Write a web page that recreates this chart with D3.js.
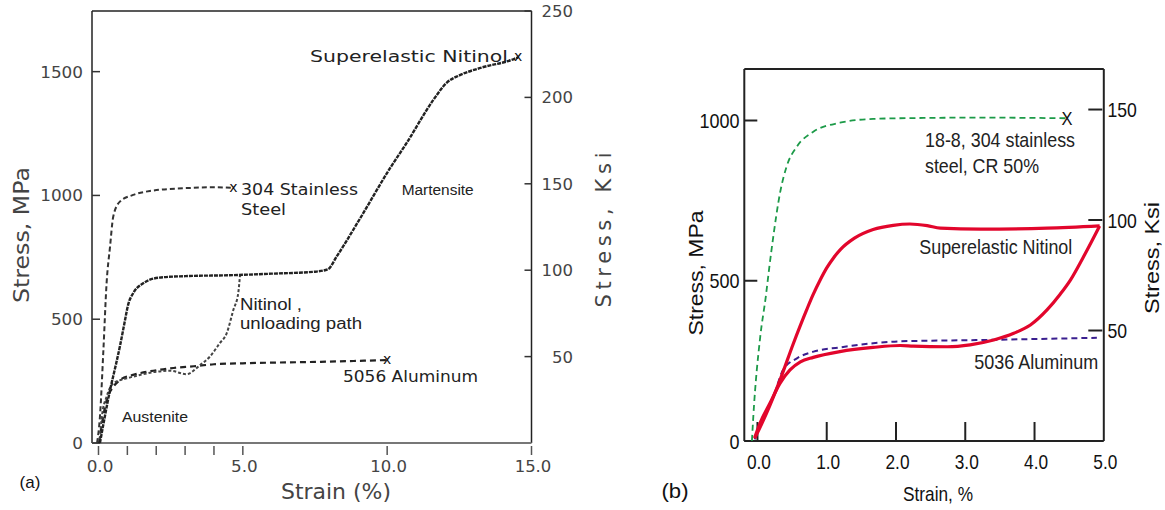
<!DOCTYPE html>
<html><head><meta charset="utf-8">
<script src="https://cdn.jsdelivr.net/npm/d3@7"></script>
<style>body{margin:0;background:#fff}svg{display:block}</style>
</head><body>
<svg id="c" width="1165" height="510"></svg>
<script>
// ---------- Panel (a) data ----------
const aStrainTicks = [0, 5, 10, 15];
const aStrainMinor = [1, 2, 3, 4];
const aStressTicks = [0, 500, 1000, 1500];
const aKsiTicks = [50, 100, 150, 200, 250];
// [strain %, stress MPa]
const aNitinolLoad = [[0.05,0],[0.2,95],[0.4,214],[0.6,315],[0.75,395],[0.9,485],[1.03,560],[1.2,605],[1.55,645],[2.1,668],[3,674],[4.66,678],[6,684],[7.5,692],[7.95,702],[8.25,753],[9,895],[10.1,1110],[10.67,1211],[11.6,1386],[12.06,1455],[12.5,1485],[13.2,1514],[14.37,1550],[14.54,1558]];
const aNitinolUnload = [[0.05,16],[0.12,110],[0.28,187],[0.51,241],[0.98,261],[1.44,275],[2.0,288],[2.48,292],[3.05,278],[3.52,315],[3.86,349],[4.2,403],[4.44,443],[4.67,537],[4.84,605],[4.9,675]];
const aAluminum = [[0.02,0],[0.15,100],[0.3,180],[0.5,225],[0.75,255],[1.2,275],[1.9,292],[2.6,303],[3.3,310],[4,318],[5,322],[7.7,328],[10.0,335]];
const aSteel = [[-0.05,0],[0.05,106],[0.17,376],[0.28,645],[0.4,793],[0.51,914],[0.74,975],[1.2,1002],[1.78,1018],[2.94,1029],[4.09,1033],[4.67,1030]];

// ---------- Panel (b) data ----------
const bStrainTicks = [0, 1, 2, 3, 4, 5];
const bStressTicks = [0, 500, 1000];
const bKsiTicks = [50, 100, 150];
const bSteel = [[-0.08,0],[-0.06,76],[0.04,325],[0.12,450],[0.17,540],[0.228,637],[0.325,773],[0.42,856],[0.567,918],[0.806,965],[1.19,993],[1.67,1005],[2.4,1008],[3.2,1009],[4.47,1007]];
const bNitinolLoad = [[-0.04,8],[0.13,86],[0.325,190],[0.52,305],[0.71,409],[0.8,455],[0.9,500],[1.0,540],[1.1,572],[1.2,598],[1.4,633],[1.67,660],[1.96,673],[2.2,677],[2.45,672],[2.64,664],[3.22,661],[4.18,664],[4.94,671]];
const bNitinolUnload = [[-0.04,10],[0.036,55],[0.18,118],[0.325,180],[0.47,222],[0.62,247],[0.806,261],[1.19,279],[1.67,292],[2.06,298],[2.25,296],[2.74,294],[3.07,300],[3.41,315],[3.7,336],[3.94,362],[4.18,409],[4.37,458],[4.52,503],[4.7,572],[4.94,671]];
const bAluminum = [[-0.04,5],[0.1,80],[0.23,138],[0.37,222],[0.57,258],[0.81,279],[1.19,292],[1.67,305],[2.06,311],[3.22,315],[4.9,322]];

const MPA_PER_KSI = 6.895;
const svg = d3.select('#c');

function label(g, s, x, y, o = {}) {
  const t = g.append('text').attr('x', x).attr('y', y).text(s)
    .attr('font-family', o.ff || "'Liberation Sans', Arial, sans-serif")
    .attr('font-size', o.fs || 15)
    .attr('fill', o.fill || '#222')
    .attr('text-anchor', o.anchor || 'start');
  if (o.len) t.attr('textLength', o.len).attr('lengthAdjust', o.adj || 'spacingAndGlyphs');
  if (o.rot) t.attr('transform', `rotate(${o.rot},${x},${y})`);
  if (o.db) t.attr('dominant-baseline', o.db);
  return t;
}
function line(g, x1, y1, x2, y2, st, w) {
  g.append('line').attr('x1', x1).attr('y1', y1).attr('x2', x2).attr('y2', y2)
    .attr('stroke', st).attr('stroke-width', w);
}
function lenOf(s, dig, dot) {
  let L = 0; for (const c of s) L += (c === '.') ? dot : dig; return L;
}
const PIX = "'DejaVu Sans', sans-serif";

// ================= Panel (a) =================
const gA = svg.append('g');
const ax = d3.scaleLinear().domain([-0.225, 15]).range([92, 531.5]);
const ay = d3.scaleLinear().domain([0, 1745]).range([443, 11]);
const ayK = d3.scaleLinear().domain([0, 250]).range([443, 11]);
const [aL, aR] = ax.range(), [aB, aT] = ay.range();

line(gA, aL, aT, aL, aB, '#222', 1.5);
line(gA, aL, aT, aR, aT, '#222', 1.5);
line(gA, aR, aT, aR, aB, '#222', 1.5);
line(gA, aL, aB, aR, aB, '#777', 2);

aStressTicks.forEach(v => {
  line(gA, aL, ay(v), aL + 8, ay(v), '#333', 1.5);
  const s = String(v);
  label(gA, s, 83, ay(v) + 6, {ff: PIX, fs: 16, fill: '#444', anchor: 'end', len: lenOf(s, 10.7, 5)});
});
aKsiTicks.forEach(v => {
  line(gA, aR - 7, ayK(v), aR, ayK(v), '#333', 1.5);
  const s = String(v);
  label(gA, s, 573, ayK(v) + 6, {ff: PIX, fs: 16, fill: '#444', anchor: 'end', len: lenOf(s, 10.5, 5)});
});
aStrainTicks.concat(aStrainMinor).forEach(v => line(gA, ax(v), aB + 3, ax(v), aB + 12, '#555', 1.5));
aStrainTicks.forEach(v => {
  const s = v.toFixed(1);
  label(gA, s, ax(v) + 1.5, 472, {ff: PIX, fs: 16, fill: '#444', anchor: 'middle', len: lenOf(s, 10, 6.7)});
});
label(gA, 'Stress, MPa', 29, 235, {ff: PIX, fs: 21, fill: '#444', anchor: 'middle', rot: -90, len: 136});
label(gA, 'Stress, Ksi', 611, 230, {ff: PIX, fs: 21, fill: '#444', anchor: 'middle', rot: -90, len: 155, adj: 'spacing'});
label(gA, 'Strain (%)', 336, 499, {ff: PIX, fs: 21, fill: '#444', anchor: 'middle', len: 110});
label(gA, '(a)', 30, 488, {fs: 17, fill: '#111', anchor: 'middle'});

const lineA = d3.line().x(d => ax(d[0])).y(d => ay(d[1])).curve(d3.curveMonotoneX);
gA.append('path').attr('d', lineA(aSteel)).attr('fill', 'none').attr('stroke', '#333').attr('stroke-width', 2).attr('stroke-dasharray', '5,3');
gA.append('path').attr('d', lineA(aAluminum)).attr('fill', 'none').attr('stroke', '#222').attr('stroke-width', 2.2).attr('stroke-dasharray', '6,4');
gA.append('path').attr('d', lineA(aNitinolUnload)).attr('fill', 'none').attr('stroke', '#444').attr('stroke-width', 2).attr('stroke-dasharray', '3,2');
gA.append('path').attr('d', lineA(aNitinolLoad)).attr('fill', 'none').attr('stroke', '#222').attr('stroke-width', 2.4).attr('stroke-dasharray', '4,1');

[aSteel, aAluminum, aNitinolLoad].forEach(arr => {
  const e = arr[arr.length - 1];
  label(gA, 'x', ax(e[0]), ay(e[1]) + 4, {fs: 14, fill: '#111', anchor: 'middle', ff: PIX});
});

label(gA, 'Superelastic Nitinol', 310, 61.5, {ff: PIX, fs: 15, fill: '#222', len: 198});
label(gA, '304 Stainless', 241, 195, {ff: PIX, fs: 15, fill: '#222', len: 117});
label(gA, 'Steel', 241, 215, {ff: PIX, fs: 15, fill: '#222', len: 45});
label(gA, 'Martensite', 401.7, 195, {fs: 15.5, len: 72});
label(gA, 'Nitinol ,', 240, 310, {fs: 16, len: 62});
label(gA, 'unloading path', 240, 329, {fs: 16, len: 122});
label(gA, '5056 Aluminum', 343, 381.5, {ff: PIX, fs: 15, fill: '#222', len: 135});
label(gA, 'Austenite', 122, 421.5, {fs: 15.5, len: 66});

// ================= Panel (b) =================
const gB = svg.append('g');
const bx = d3.scaleLinear().domain([-0.19, 5]).range([744.3, 1103.8]);
const by = d3.scaleLinear().domain([0, 1160.7]).range([441, 69]);
const byK = d3.scaleLinear().domain([0, 1160.7 / MPA_PER_KSI]).range([441, 69]);
const [bL, bR] = bx.range(), [bB, bT] = by.range();

line(gB, bL, bT, bL, bB, '#222', 2);
line(gB, bL, bT, bR, bT, '#222', 2);
line(gB, bR, bT, bR, bB, '#222', 2);
line(gB, bL, bB, bR, bB, '#222', 2);

bStressTicks.forEach(v => {
  line(gB, bL, by(v), bL + 13, by(v), '#222', 2);
  const s = String(v);
  label(gB, s, 739.5, by(v) + 7.5, {fs: 21, fill: '#111', anchor: 'end', len: lenOf(s, 10, 4)});
});
bKsiTicks.forEach(v => {
  line(gB, bR - 15.5, byK(v), bR - 1.5, byK(v), '#222', 2);
  const s = String(v);
  label(gB, s, 1107.5, byK(v) + 7.5, {fs: 21, fill: '#111', len: lenOf(s, 9.8, 4)});
});
bStrainTicks.filter(v => v < 5).forEach(v => line(gB, bx(v), bB - 19, bx(v), bB, '#222', 2));
bStrainTicks.forEach(v => {
  const s = v.toFixed(1);
  label(gB, s, bx(v) + 1.5, 468.5, {fs: 21, fill: '#111', anchor: 'middle', len: lenOf(s, 10, 4)});
});
label(gB, 'Stress, MPa', 703, 273, {fs: 21, fill: '#111', anchor: 'middle', rot: -90, len: 125});
label(gB, 'Stress, Ksi', 1159, 258, {fs: 21, fill: '#111', anchor: 'middle', rot: -90, len: 112});
label(gB, 'Strain, %', 938, 501, {fs: 21, fill: '#111', anchor: 'middle', len: 70});
label(gB, '(b)', 675, 498, {fs: 21, fill: '#111', anchor: 'middle', len: 27});

const lineB = d3.line().x(d => bx(d[0])).y(d => by(d[1])).curve(d3.curveMonotoneX);
gB.append('path').attr('d', lineB(bSteel)).attr('fill', 'none').attr('stroke', '#1c9a48').attr('stroke-width', 1.8).attr('stroke-dasharray', '6,4');
gB.append('path').attr('d', lineB(bAluminum)).attr('fill', 'none').attr('stroke', '#3a1f8f').attr('stroke-width', 2).attr('stroke-dasharray', '6,4');
gB.append('path').attr('d', lineB(bNitinolLoad)).attr('fill', 'none').attr('stroke', '#e2062c').attr('stroke-width', 3.2).attr('stroke-linejoin', 'round');
gB.append('path').attr('d', lineB(bNitinolUnload)).attr('fill', 'none').attr('stroke', '#e2062c').attr('stroke-width', 3.2).attr('stroke-linejoin', 'round');
const eS = bSteel[bSteel.length - 1];
label(gB, 'X', bx(eS[0]), by(eS[1]) + 7, {fs: 18, fill: '#111', anchor: 'middle', len: 11});

label(gB, '18-8, 304 stainless', 925, 146.5, {fs: 21, len: 150});
label(gB, 'steel, CR 50%', 925, 173, {fs: 21, len: 114});
label(gB, 'Superelastic Nitinol', 919.3, 254, {fs: 21, len: 153});
label(gB, '5036 Aluminum', 974.3, 369.3, {fs: 21, len: 124});
</script></body></html>
